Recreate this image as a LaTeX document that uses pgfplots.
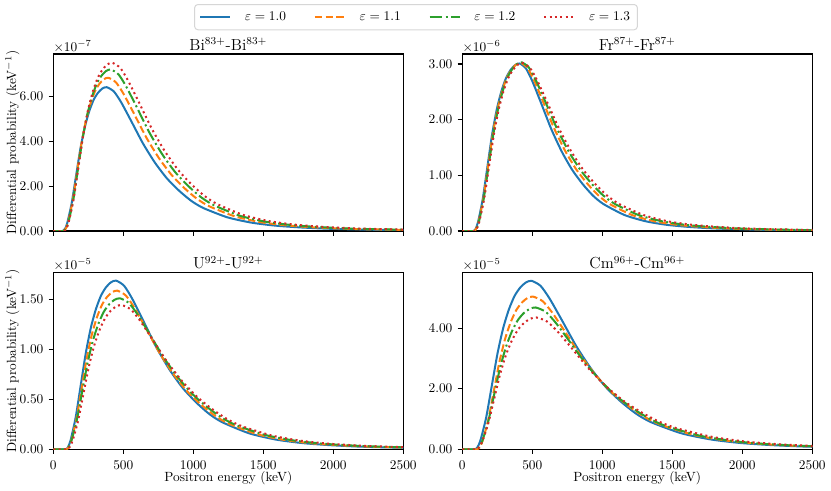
\documentclass[border=0pt]{standalone}
\usepackage{pgfplots}
\pgfplotsset{compat=1.18}
\definecolor{c1}{HTML}{1F77B4}
\definecolor{c2}{HTML}{FF7F0E}
\definecolor{c3}{HTML}{2CA02C}
\definecolor{c4}{HTML}{D62728}
\tikzset{
 s1/.style={color=c1, line width=1.5pt, solid},
 s2/.style={color=c2, line width=1.5pt, dash pattern=on 5.55pt off 2.4pt},
 s3/.style={color=c3, line width=1.5pt, dash pattern=on 9.6pt off 2.4pt on 1.5pt off 2.4pt},
 s4/.style={color=c4, line width=1.5pt, dash pattern=on 1.5pt off 2.475pt},
}
\pgfplotsset{
 myaxis/.style={
  scale only axis, width=262.5pt, height=132.75pt,
  xmin=0, xmax=2500, ymin=0,
  xtick={0,500,1000,1500,2000,2500},
  tick align=outside, tick pos=left,
  major tick length=3.5pt,
  every tick/.style={black, line width=0.8pt},
  axis line style={black, line width=0.8pt},
  scaled y ticks=false, scaled x ticks=false,
  yticklabel style={/pgf/number format/fixed, /pgf/number format/fixed zerofill, /pgf/number format/precision=2},
  xticklabel style={/pgf/number format/fixed, /pgf/number format/1000 sep={}},
  tick label style={font=\fontsize{10}{12}\selectfont},
  yticklabel style={anchor=east, inner sep=0pt, xshift=-3.75pt},
  xticklabel style={anchor=base, inner sep=0pt, yshift=-11.8pt},
  label style={font=\fontsize{10}{12}\selectfont},
  ylabel style={at={(axis description cs:-0.1063,0.5)}, anchor=base},
  xlabel style={at={(axis description cs:0.5,-0.183)}, anchor=base},
  title style={font=\fontsize{12}{14.4}\selectfont, at={(axis description cs:0.5,1)}, anchor=base, yshift=-3.5pt, inner sep=0pt},
  no markers,
  every axis plot/.append style={line join=round, smooth, tension=0.4},
 },
 mult/.style={extra description/.code={\node[anchor=base west, inner sep=0pt, yshift=2pt, font=\fontsize{10}{12}\selectfont] at (0,1) {$\times10^{#1}$};}},
}
\begin{document}
\begin{tikzpicture}
\path[use as bounding box] (0pt,0pt) rectangle (623.25pt,-368.25pt);

% ---------------- Bi ----------------
\begin{axis}[myaxis, at={(39.98pt,-173.25pt)}, anchor=south west,
  ymax=7.9, ytick={0,2,4,6}, xticklabels={},
  ylabel={Differential probability (keV$^{-1}$)},
  title={Bi$^{83+}$-Bi$^{83+}$}, mult={-7},
  legend columns=4,
  legend style={at={(1.0363,1.2083)}, anchor=center,
    draw={rgb,255:red,214;green,214;blue,214}, line width=0.75pt, rounded corners=2.5pt,
    inner xsep=3.5pt, inner ysep=3.5pt, font=\fontsize{10}{12}\selectfont,
    /tikz/every odd column/.append style={column sep=8.25pt},
    /tikz/every even column/.append style={column sep=19pt}},
  legend image code/.code={\draw[#1] (0pt,0pt) -- (22.5pt,0pt);},
]
\addplot[s1] coordinates {(0,0) (68,0) (83.7,0.096) (99.3,0.353) (130.6,1.220) (161.9,2.440) (193.2,3.659) (224.5,4.622) (255.8,5.329) (287.1,5.842) (318.4,6.163) (349.7,6.356) (381,6.42) (432.8,6.227) (484.5,5.746) (553.5,4.943) (639.8,3.916) (726,3.050) (812.3,2.343) (898.5,1.798) (984.8,1.348) (1071,1.027) (1243.5,0.610) (1416,0.372) (1588.5,0.238) (1761,0.161) (1933.5,0.109) (2106,0.077) (2451,0.0385) (2796,0.0193)};
\addlegendentry{$\varepsilon=1.0$}
\addplot[s2] coordinates {(0,0) (73,0) (89,0.103) (105,0.376) (137,1.300) (169,2.599) (201,3.899) (233,4.925) (265,5.677) (297,6.224) (329,6.566) (361,6.772) (393,6.84) (447.3,6.635) (501.6,6.122) (574,5.267) (664.5,4.172) (755,3.249) (845.5,2.497) (936,1.915) (1026.5,1.436) (1117,1.094) (1298,0.650) (1479,0.397) (1660,0.253) (1841,0.171) (2022,0.116) (2203,0.082) (2565,0.041)};
\addlegendentry{$\varepsilon=1.1$}
\addplot[s3] coordinates {(0,0) (75,0) (91.8,0.108) (108.5,0.397) (142,1.370) (175.5,2.740) (209,4.110) (242.5,5.191) (276,5.984) (309.5,6.561) (343,6.922) (376.5,7.138) (410,7.21) (465.2,6.994) (520.4,6.453) (594,5.552) (686,4.398) (778,3.425) (870,2.632) (962,2.019) (1054,1.514) (1146,1.154) (1330,0.685) (1514,0.418) (1698,0.267) (1882,0.180) (2066,0.123) (2250,0.087) (2618,0.043)};
\addlegendentry{$\varepsilon=1.2$}
\addplot[s4] coordinates {(0,0) (76,0) (93.3,0.113) (110.5,0.413) (145,1.427) (179.5,2.854) (214,4.281) (248.5,5.407) (283,6.233) (317.5,6.834) (352,7.210) (386.5,7.435) (421,7.51) (477.3,7.285) (533.5,6.721) (608.5,5.783) (702.3,4.581) (796,3.567) (889.8,2.741) (983.5,2.103) (1077.3,1.577) (1171,1.202) (1358.5,0.713) (1546,0.436) (1733.5,0.278) (1921,0.188) (2108.5,0.128) (2296,0.090) (2671,0.045)};
\addlegendentry{$\varepsilon=1.3$}
\end{axis}

% ---------------- Fr ----------------
\begin{axis}[myaxis, at={(346.7pt,-173.25pt)}, anchor=south west,
  ymax=3.18, ytick={0,1,2,3}, xticklabels={},
  title={Fr$^{87+}$-Fr$^{87+}$}, mult={-6}]
\addplot[s1] coordinates {(0,0) (80,0) (96.5,0.045) (113,0.166) (146,0.572) (179,1.144) (212,1.716) (245,2.167) (278,2.498) (311,2.739) (344,2.890) (377,2.980) (410,3.01) (455,2.920) (500,2.694) (560,2.318) (635,1.836) (710,1.430) (785,1.099) (860,0.843) (935,0.632) (1010,0.482) (1160,0.286) (1310,0.175) (1460,0.111) (1610,0.075) (1760,0.051) (1910,0.036) (2210,0.018) (2510,0.009)};
\addplot[s2] coordinates {(0,0) (83,0) (99.8,0.045) (116.5,0.166) (150,0.574) (183.5,1.148) (217,1.721) (250.5,2.174) (284,2.507) (317.5,2.748) (351,2.899) (384.5,2.990) (418,3.02) (465.7,2.929) (513.4,2.703) (577,2.325) (656.5,1.842) (736,1.435) (815.5,1.102) (895,0.846) (974.5,0.634) (1054,0.483) (1213,0.287) (1372,0.175) (1531,0.112) (1690,0.076) (1849,0.051) (2008,0.036) (2326,0.018) (2644,0.009)};
\addplot[s3] coordinates {(0,0) (85,0) (102,0.046) (119,0.167) (153,0.576) (187,1.151) (221,1.727) (255,2.182) (289,2.515) (323,2.757) (357,2.909) (391,3.000) (425,3.03) (475,2.939) (524.9,2.712) (591.5,2.333) (674.8,1.848) (758,1.439) (841.3,1.106) (924.5,0.848) (1007.8,0.636) (1091,0.485) (1257.5,0.288) (1424,0.176) (1590.5,0.112) (1757,0.076) (1923.5,0.052) (2090,0.036) (2423,0.018) (2756,0.009)};
\addplot[s4] coordinates {(0,0) (87,0) (104.3,0.045) (121.5,0.166) (156,0.574) (190.5,1.148) (225,1.721) (259.5,2.174) (294,2.507) (328.5,2.748) (363,2.899) (397.5,2.990) (432,3.02) (483.8,2.929) (535.5,2.703) (604.5,2.325) (690.8,1.842) (777,1.435) (863.3,1.102) (949.5,0.846) (1035.8,0.634) (1122,0.483) (1294.5,0.287) (1467,0.175) (1639.5,0.112) (1812,0.076) (1984.5,0.051) (2157,0.036) (2502,0.018)};
\end{axis}

% ---------------- U ----------------
\begin{axis}[myaxis, at={(39.98pt,-336.98pt)}, anchor=south west,
  ymax=1.77, ytick={0,0.5,1,1.5},
  ylabel={Differential probability (keV$^{-1}$)}, xlabel={Positron energy (keV)},
  title={U$^{92+}$-U$^{92+}$}, mult={-5}]
\addplot[s1] coordinates {(0,0) (88,0) (106,0.0253) (124,0.0928) (160,0.3205) (196,0.6411) (232,0.9616) (268,1.2146) (304,1.4002) (340,1.5352) (376,1.6195) (412,1.6701) (448,1.687) (505,1.6364) (562,1.5099) (638,1.2990) (733,1.0291) (828,0.8013) (923,0.6158) (1018,0.4724) (1113,0.3543) (1208,0.2699) (1398,0.1603) (1588,0.0978) (1778,0.0624) (1968,0.0422) (2158,0.0287) (2348,0.0202) (2728,0.0101)};
\addplot[s2] coordinates {(0,0) (92,0) (110.3,0.0238) (128.5,0.0873) (165,0.3015) (201.5,0.6031) (238,0.9046) (274.5,1.1426) (311,1.3172) (347.5,1.4442) (384,1.5235) (420.5,1.5711) (457,1.587) (517,1.5394) (577,1.4204) (657,1.2220) (757,0.9681) (857,0.7538) (957,0.5793) (1057,0.4444) (1157,0.3333) (1257,0.2539) (1457,0.1508) (1657,0.0920) (1857,0.0587) (2057,0.0397) (2257,0.0270) (2457,0.0190) (2857,0.0095)};
\addplot[s3] coordinates {(0,0) (90,0) (109.3,0.0227) (128.6,0.0831) (167.2,0.2869) (205.8,0.5738) (244.4,0.8607) (283,1.0872) (321.6,1.2533) (360.2,1.3741) (398.8,1.4496) (437.4,1.4949) (476,1.51) (538.3,1.4647) (600.5,1.3515) (683.5,1.1627) (787.3,0.9211) (891,0.7173) (994.8,0.5512) (1098.5,0.4228) (1202.3,0.3171) (1306,0.2416) (1513.5,0.1435) (1721,0.0876) (1928.5,0.0559) (2136,0.0378) (2343.5,0.0257) (2551,0.0181)};
\addplot[s4] coordinates {(0,0) (97,0) (116.6,0.0216) (136.1,0.0794) (175.2,0.2742) (214.3,0.5483) (253.4,0.8225) (292.5,1.0390) (331.6,1.1977) (370.7,1.3131) (409.8,1.3853) (448.9,1.4286) (488,1.443) (552.5,1.3997) (617,1.2915) (703,1.1111) (810.5,0.8802) (918,0.6854) (1025.5,0.5267) (1133,0.4040) (1240.5,0.3030) (1348,0.2309) (1563,0.1371) (1778,0.0837) (1993,0.0534) (2208,0.0361) (2423,0.0245) (2638,0.0173)};
\end{axis}

% ---------------- Cm ----------------
\begin{axis}[myaxis, at={(346.7pt,-336.98pt)}, anchor=south west,
  ymax=5.84, ytick={0,2,4},
  xlabel={Positron energy (keV)},
  title={Cm$^{96+}$-Cm$^{96+}$}, mult={-5}]
\addplot[s1] coordinates {(0,0) (90,0) (110.3,0.0834) (130.5,0.3058) (171,1.0564) (211.5,2.1128) (252,3.1692) (292.5,4.0032) (333,4.6148) (373.5,5.0596) (414,5.3376) (454.5,5.5044) (495,5.56) (559.2,5.3932) (623.4,4.9762) (709,4.2812) (816,3.3916) (923,2.641) (1030,2.0294) (1137,1.5568) (1244,1.1676) (1351,0.8896) (1565,0.5282) (1779,0.3225) (1993,0.2057) (2207,0.139) (2421,0.0945) (2635,0.0667)};
\addplot[s2] coordinates {(0,0) (105,0) (125,0.0756) (145,0.2772) (185,0.9576) (225,1.9152) (265,2.8728) (305,3.6288) (345,4.1832) (385,4.5864) (425,4.8384) (465,4.9896) (505,5.04) (573.7,4.8888) (642.4,4.5108) (734,3.8808) (848.5,3.0744) (963,2.394) (1077.5,1.8396) (1192,1.4112) (1306.5,1.0584) (1421,0.8064) (1650,0.4788) (1879,0.2923) (2108,0.1865) (2337,0.126) (2566,0.0857)};
\addplot[s3] coordinates {(0,0) (99,0) (120.3,0.0702) (141.5,0.2574) (184,0.8892) (226.5,1.7784) (269,2.6676) (311.5,3.3696) (354,3.8844) (396.5,4.2588) (439,4.4928) (481.5,4.6332) (524,4.68) (594.7,4.5396) (665.3,4.1886) (759.5,3.6036) (877.3,2.8548) (995,2.223) (1112.8,1.7082) (1230.5,1.3104) (1348.3,0.9828) (1466,0.7488) (1701.5,0.4446) (1937,0.2714) (2172.5,0.1732) (2408,0.117) (2643.5,0.0796)};
\addplot[s4] coordinates {(0,0) (98,0) (119.6,0.0653) (141.1,0.2393) (184.2,0.8265) (227.3,1.653) (270.4,2.4795) (313.5,3.132) (356.6,3.6105) (399.7,3.9585) (442.8,4.176) (485.9,4.3065) (529,4.35) (604.2,4.2195) (679.3,3.8933) (779.5,3.3495) (904.8,2.6535) (1030,2.0663) (1155.3,1.5878) (1280.5,1.218) (1405.8,0.9135) (1531,0.696) (1781.5,0.4133) (2032,0.2523) (2282.5,0.161) (2533,0.1088)};
\end{axis}
\end{tikzpicture}
\end{document}
